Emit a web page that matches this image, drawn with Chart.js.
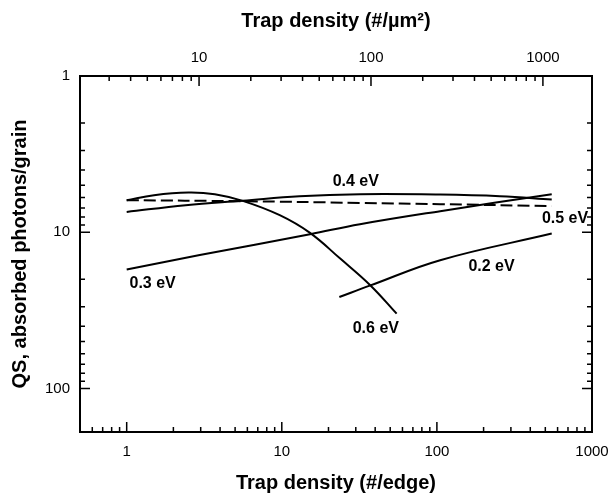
<!DOCTYPE html>
<html><head><meta charset="utf-8">
<script src="https://cdn.jsdelivr.net/npm/chart.js@4.4.0/dist/chart.umd.min.js"></script>
<style>html,body{margin:0;padding:0;background:#fff;}canvas{display:block;}</style>
</head><body>
<canvas id="c" width="614" height="497"></canvas>
<script>
// Tick labels
const edgeTickLabels = [1, 10, 100, 1000];   // bottom axis (#/edge)
const areaTickLabels = [10, 100, 1000];      // top axis (#/um^2)
const qsTickLabels = [1, 10, 100];           // y axis

// Series (x = trap density #/edge, y = QS)
const x06 = [1, 1.5, 2.5, 3.7, 5.6, 9.7, 15.2, 23.7, 37.3, 55];
const y06 = [6.24, 5.79, 5.57, 5.71, 6.30, 7.78, 10.1, 14.7, 21.9, 33.2];
const x05 = [1, 5.6, 32, 105, 550];
const y05 = [6.24, 6.33, 6.49, 6.61, 6.81];
const x04 = [1, 2.4, 5.6, 13, 32, 105, 255, 550];
const y04 = [7.41, 6.71, 6.28, 5.88, 5.71, 5.74, 5.88, 6.17];
const x03 = [1, 2.96, 15.2, 31.9, 105, 550];
const y03 = [17.3, 14.0, 10.3, 8.89, 7.33, 5.71];
const x02 = [23.5, 37.3, 105, 550];
const y02 = [26.0, 21.9, 15.1, 10.2];

// Curve labels: [text, x, y]
const curveLabels = [
  ['0.4 eV', 30, 4.71],
  ['0.5 eV', 670, 8.13],
  ['0.3 eV', 1.47, 21.2],
  ['0.2 eV', 225, 16.5],
  ['0.6 eV', 40.4, 41.3]
];

const FAM = '"Liberation Sans", Arial, Helvetica, sans-serif';
const pts = (xs, ys) => xs.map((x, i) => ({x, y: ys[i]}));

const ds = (xs, ys, dash) => ({
  data: pts(xs, ys), showLine: true, borderColor: '#000', borderWidth: 2,
  pointRadius: 0, tension: 0.4, borderDash: dash || [], fill: false,
  xAxisID: 'x', yAxisID: 'y'
});

const inTicks = {
  id: 'inTicks',
  afterDraw(chart) {
    const ctx = chart.ctx, ca = chart.chartArea;
    const list = (s) => {
      const out = [];
      const lo = Math.floor(Math.log10(s.min)), hi = Math.ceil(Math.log10(s.max));
      for (let e = lo; e <= hi; e++) for (let m = 1; m <= 9; m++) {
        const v = m * Math.pow(10, e);
        if (v >= s.min * 0.999 && v <= s.max * 1.001) out.push({v, major: m === 1});
      }
      return out;
    };
    ctx.save();
    ctx.strokeStyle = '#000';
    ctx.lineWidth = 1.5;
    ctx.beginPath();
    const sx = chart.scales.x, sx2 = chart.scales.x2, sy = chart.scales.y, sy2 = chart.scales.y2;
    list(sx).forEach(t => { const p = sx.getPixelForValue(t.v); const L = t.major ? 10 : 5;
      ctx.moveTo(p, ca.bottom); ctx.lineTo(p, ca.bottom - L); });
    list(sx2).forEach(t => { const p = sx2.getPixelForValue(t.v); const L = t.major ? 10 : 5;
      ctx.moveTo(p, ca.top); ctx.lineTo(p, ca.top + L); });
    list(sy).forEach(t => { const p = sy.getPixelForValue(t.v); const L = t.major ? 10 : 5;
      ctx.moveTo(ca.left, p); ctx.lineTo(ca.left + L, p); });
    list(sy2).forEach(t => { const p = sy2.getPixelForValue(t.v); const L = t.major ? 10 : 5;
      ctx.moveTo(ca.right, p); ctx.lineTo(ca.right - L, p); });
    ctx.stroke();
    // curve labels
    ctx.fillStyle = '#000';
    ctx.font = 'bold 16px ' + FAM;
    ctx.textAlign = 'center';
    ctx.textBaseline = 'middle';
    curveLabels.forEach(([t, x, y]) => {
      ctx.fillText(t, sx.getPixelForValue(x), sy.getPixelForValue(y));
    });
    ctx.restore();
  }
};

const gridOpts = {drawOnChartArea: false, drawTicks: false, lineWidth: 2, color: '#000'};
const borderOpts = {display: true, width: 2, color: '#000'};
const tickFont = {family: FAM, size: 15};
const titleFont = {family: FAM, size: 20, weight: 'bold'};
const noPad = s => { s.paddingLeft = 0; s.paddingRight = 0; s.paddingTop = 0; s.paddingBottom = 0; };

new Chart(document.getElementById('c'), {
  type: 'scatter',
  data: {datasets: [
    ds(x06, y06), ds(x05, y05, [12, 5]), ds(x04, y04), ds(x03, y03), ds(x02, y02)
  ]},
  options: {
    responsive: false, animation: false, maintainAspectRatio: false,
    layout: {padding: 0},
    plugins: {legend: {display: false}, tooltip: {enabled: false}},
    scales: {
      x: {type: 'logarithmic', position: 'bottom', min: 0.5, max: 1000,
        afterBuildTicks: s => { s.ticks = edgeTickLabels.map(v => ({value: v})); },
        afterFit: s => { s.height = 65; noPad(s); },
        ticks: {callback: v => String(v), font: tickFont, color: '#000', padding: 11, maxRotation: 0, autoSkip: false},
        grid: gridOpts, border: borderOpts,
        title: {display: true, text: 'Trap density (#/edge)', font: titleFont, color: '#000', padding: {top: 0, bottom: 2}}
      },
      x2: {type: 'logarithmic', position: 'top', min: 2.03, max: 1930,
        afterBuildTicks: s => { s.ticks = areaTickLabels.map(v => ({value: v})); },
        afterFit: s => { s.height = 76; noPad(s); },
        ticks: {callback: v => String(v), font: tickFont, color: '#000', padding: 9, maxRotation: 0, autoSkip: false},
        grid: gridOpts, border: borderOpts,
        title: {display: true, text: 'Trap density (#/\u00B5m\u00B2)', font: titleFont, color: '#000', padding: {top: 9, bottom: 0}}
      },
      y: {type: 'logarithmic', position: 'left', reverse: true, min: 1, max: 190,
        afterBuildTicks: s => { s.ticks = qsTickLabels.map(v => ({value: v})); },
        afterFit: s => { s.width = 80; noPad(s); },
        ticks: {callback: v => String(v), font: tickFont, color: '#000', padding: 10, autoSkip: false},
        grid: gridOpts, border: borderOpts,
        title: {display: true, text: 'QS, absorbed photons/grain', font: titleFont, color: '#000', padding: {top: 8, bottom: 0}}
      },
      y2: {type: 'logarithmic', position: 'right', reverse: true, min: 1, max: 190,
        afterBuildTicks: s => { s.ticks = qsTickLabels.map(v => ({value: v})); },
        afterFit: s => { s.width = 22; noPad(s); },
        ticks: {display: false},
        grid: gridOpts, border: borderOpts
      }
    }
  },
  plugins: [inTicks]
});
</script>
</body></html>
